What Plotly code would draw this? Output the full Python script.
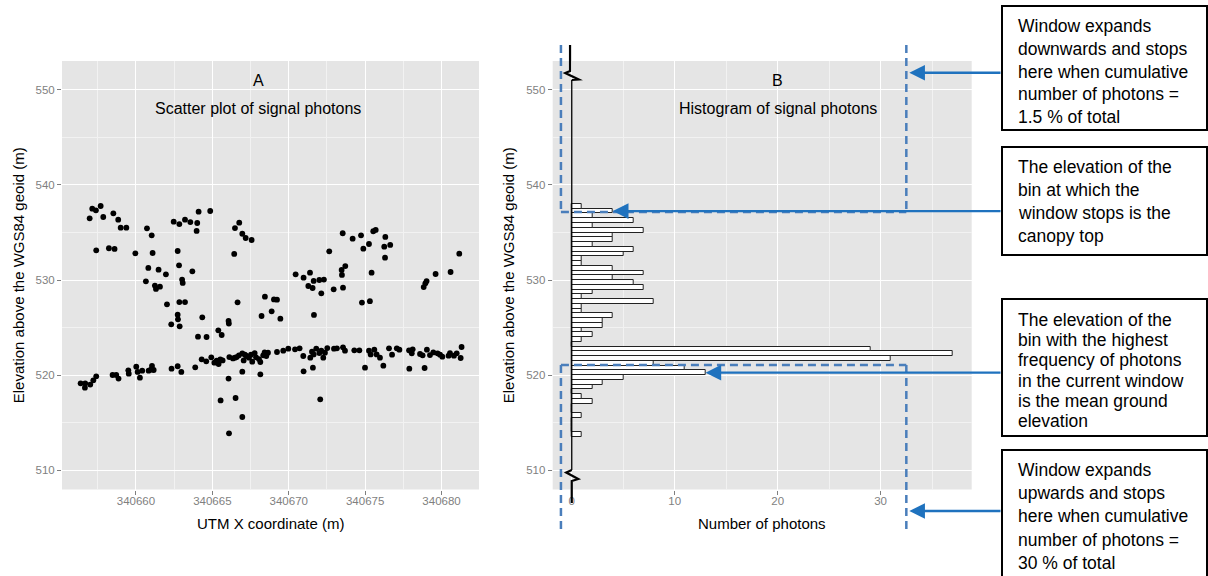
import plotly.graph_objects as go

W, H = 1208, 576
FONT = "Liberation Sans, Arial, sans-serif"

# Signal photons: UTM easting (m) and elevation above the WGS84 geoid (m)
utm_x = [
    340656.97, 340657.14, 340657.38, 340657.69, 340657.86, 340657.40, 340658.23, 340658.60,
    340658.52, 340658.84, 340659.00, 340659.37, 340659.96, 340660.72, 340661.03, 340661.09,
    340660.81, 340661.48, 340661.96, 340660.65, 340661.24, 340661.31, 340661.57, 340662.47,
    340662.84, 340663.21, 340663.56, 340664.01, 340663.97, 340664.10, 340664.86, 340662.73,
    340662.82, 340663.69, 340663.02, 340663.06, 340666.48, 340666.76, 340666.96, 340667.18,
    340667.57, 340666.43, 340668.44, 340673.53, 340674.18, 340674.73, 340675.53, 340675.69,
    340676.32,
    340662.03, 340662.31, 340662.73, 340662.75, 340662.86, 340662.84, 340663.21, 340664.34,
    340664.06, 340664.62, 340665.39, 340665.61, 340666.06, 340666.08, 340666.65, 340668.22,
    340668.88, 340669.03, 340669.23, 340669.45, 340670.45, 340670.97, 340671.39, 340671.63,
    340671.28, 340671.56, 340672.00, 340672.30, 340672.13, 340671.65, 340672.65, 340672.94,
    340673.46, 340673.48, 340673.70, 340673.55, 340674.88, 340675.25, 340675.42, 340674.79,
    340675.31, 340676.25, 340676.30, 340676.64, 340678.83, 340678.94, 340679.02, 340679.61,
    340680.59, 340681.16,
    340656.38, 340656.66, 340656.68, 340657.01, 340657.21, 340657.40, 340658.47, 340658.71,
    340658.86, 340659.50, 340659.53, 340660.02, 340660.11, 340660.26, 340660.41, 340660.83,
    340661.05, 340661.16, 340660.98, 340662.33, 340662.73, 340662.97, 340663.88, 340664.30,
    340664.60, 340664.93, 340665.13, 340665.28, 340665.41, 340665.52, 340665.67, 340666.11,
    340666.35, 340666.48, 340666.59, 340666.74, 340666.96, 340667.05, 340667.13, 340667.24,
    340667.40, 340667.61, 340667.53, 340667.77, 340667.86, 340668.05, 340668.14, 340668.33,
    340668.42, 340668.53, 340668.64, 340669.23, 340669.64, 340669.97, 340670.41, 340670.71,
    340670.95, 340671.41, 340671.52, 340671.63, 340671.80, 340672.00, 340672.13, 340672.26,
    340672.37, 340672.52, 340672.96, 340673.15, 340673.55, 340673.68, 340674.29, 340674.62,
    340675.25, 340675.36, 340675.60, 340675.75, 340675.97, 340676.56, 340676.76, 340677.07,
    340677.24, 340677.87, 340678.05, 340678.11, 340678.59, 340678.76, 340679.04, 340679.24,
    340679.46, 340679.74, 340679.90, 340680.05, 340680.46, 340680.55, 340680.81, 340680.99,
    340681.25, 340681.31,
    340666.96, 340668.14, 340666.06, 340665.54, 340666.52, 340666.96, 340666.09, 340670.97,
    340671.58, 340672.06, 340674.99, 340676.19, 340677.89, 340678.89,
]
elev = [
    536.49, 537.51, 537.33, 537.79, 536.63, 533.12, 533.34, 533.27,
    537.02, 536.35, 535.51, 535.51, 532.81, 535.44, 534.70, 532.84,
    531.27, 531.09, 530.60, 529.86, 529.41, 529.06, 529.30, 536.14,
    535.89, 536.35, 536.10, 536.00, 535.16, 537.19, 537.26, 533.05,
    531.54, 530.91, 530.04, 529.69, 535.47, 536.03, 534.87, 534.42,
    534.21, 532.74, 528.24, 534.92, 534.35, 534.70, 535.13, 535.27,
    534.53,
    527.44, 525.33, 526.35, 525.86, 525.12, 527.68, 527.68, 526.07,
    524.03, 524.00, 524.70, 524.21, 525.69, 525.41, 527.65, 526.21,
    526.70, 527.96, 527.93, 525.93, 530.60, 530.25, 530.77, 529.90,
    529.37, 529.16, 530.00, 530.04, 528.60, 526.32, 533.02, 529.02,
    531.05, 530.53, 531.47, 529.19, 533.30, 533.79, 530.77, 527.62,
    527.77, 533.51, 532.35, 533.69, 529.26, 529.65, 529.89, 530.63,
    530.84, 532.77,
    519.13, 518.67, 519.13, 518.99, 519.44, 519.86, 520.00, 520.00,
    519.62, 520.49, 520.14, 520.88, 520.32, 519.72, 520.46, 520.46,
    520.95, 520.53, 520.56, 520.67, 520.92, 520.32, 520.81, 521.65,
    521.44, 521.86, 521.30, 521.51, 521.16, 521.65, 521.54, 521.89,
    521.75, 521.82, 521.89, 522.07, 522.28, 521.54, 522.14, 522.00,
    521.82, 521.40, 522.14, 522.31, 521.86, 521.68, 521.37, 522.07,
    522.38, 522.00, 522.35, 522.42, 522.56, 522.77, 522.70, 522.81,
    522.00, 521.82, 522.45, 522.17, 522.77, 522.31, 522.56, 521.82,
    522.35, 522.84, 522.77, 522.81, 522.91, 522.56, 522.60, 522.60,
    522.56, 522.17, 522.67, 522.17, 521.82, 522.81, 522.14, 522.81,
    522.67, 522.60, 522.28, 522.70, 522.21, 522.07, 522.67, 522.10,
    522.38, 522.28, 522.14, 521.93, 522.03, 522.31, 522.03, 522.28,
    521.79, 522.95,
    520.35, 520.07, 519.62, 517.33, 517.58, 515.58, 513.86, 520.39,
    520.77, 517.44, 520.77, 520.98, 520.67, 520.74,
]

# Photon histogram: lower edge of each 0.5 m elevation bin and its count
bin_lower = [
    513.5, 514.0, 514.5, 515.0, 515.5, 516.0, 516.5, 517.0, 517.5, 518.0,
    518.5, 519.0, 519.5, 520.0, 520.5, 521.0, 521.5, 522.0, 522.5, 523.0,
    523.5, 524.0, 524.5, 525.0, 525.5, 526.0, 526.5, 527.0, 527.5, 528.0,
    528.5, 529.0, 529.5, 530.0, 530.5, 531.0, 531.5, 532.0, 532.5, 533.0,
    533.5, 534.0, 534.5, 535.0, 535.5, 536.0, 536.5, 537.0, 537.5,
]
bin_count = [
    1, 0, 0, 0, 1, 0, 0, 2, 1, 0,
    2, 3, 5, 13, 11, 8, 31, 37, 29, 0,
    1, 2, 1, 3, 3, 4, 1, 1, 8, 1,
    2, 7, 6, 4, 7, 4, 1, 1, 5, 6,
    2, 4, 4, 7, 2, 6, 2, 4, 1,
]
BIN_W = 0.5

# Search window: frame extent in photon counts and the elevations where it stops
window_count = [-1.05, 32.5]
canopy_stop = 537.15   # downward expansion stops here (1.5 % of total)
ground_stop = 521.05   # upward expansion stops here (30 % of total)

x_ticks_utm = [340660, 340665, 340670, 340675, 340680]
y_ticks = [510, 520, 530, 540, 550]
x_ticks_count = [0, 10, 20, 30]

callouts = [
    ["Window expands", "downwards and stops", "here when cumulative",
     "number of photons =", "1.5 % of total"],
    ["The elevation of the", "bin at which the", "window stops is the", "canopy top"],
    ["The elevation of the", "bin with the highest", "frequency of photons",
     "in the current window", "is the mean ground", "elevation"],
    ["Window expands", "upwards and stops", "here when cumulative",
     "number of photons =", "30 % of total"],
]

# ---- page geometry -------------------------------------------------------
def px(x):
    return x / W


def py(y):
    return 1 - y / H


X1_DOM = [px(62), px(479)]
X2_DOM = [px(552.7), px(971.7)]
Y_DOM = [py(489.5), py(61)]
X1_RANGE = [340655.16, 340682.45]
X2_RANGE = [-1.85, 38.85]
Y_RANGE = [507.95, 553.05]


def count_to_paper(c):
    return X2_DOM[0] + (c - X2_RANGE[0]) / (X2_RANGE[1] - X2_RANGE[0]) * (X2_DOM[1] - X2_DOM[0])


def elev_to_paper(e):
    return Y_DOM[0] + (e - Y_RANGE[0]) / (Y_RANGE[1] - Y_RANGE[0]) * (Y_DOM[1] - Y_DOM[0])


BG = "#E5E5E5"
GRID = "#FFFFFF"
MINOR = "#F2F2F2"
TICKC = "#7F7F7F"
DASH_BLUE = "#4A7EBB"
ARROW_BLUE = "#1F72BE"

fig = go.Figure()

fig.add_trace(go.Scatter(
    x=utm_x, y=elev, mode="markers", xaxis="x", yaxis="y",
    marker=dict(color="black", size=5.8, line=dict(width=0)),
    showlegend=False, hoverinfo="x+y",
))

bin_mid = [b + BIN_W / 2 for b in bin_lower]
fig.add_trace(go.Bar(
    x=bin_count, y=bin_mid, orientation="h", width=BIN_W,
    xaxis="x2", yaxis="y2",
    marker=dict(color="white", line=dict(color="#222222", width=1)),
    showlegend=False,
))


def axis_common(standoff):
    return dict(
        showgrid=True, gridcolor=GRID, gridwidth=1.3, zeroline=False, showline=False,
        ticks="outside", ticklen=4, tickwidth=1, tickcolor=TICKC,
        ticklabelstandoff=standoff,
        tickfont=dict(family=FONT, size=11.5, color=TICKC),
    )


minor_x1 = dict(tick0=340657.5, dtick=2.5, showgrid=True, gridcolor=MINOR, gridwidth=0.7)
minor_y = dict(tick0=505, dtick=5, showgrid=True, gridcolor=MINOR, gridwidth=0.7)
minor_x2 = dict(tick0=0, dtick=5, showgrid=True, gridcolor=MINOR, gridwidth=0.7)

fig.update_layout(
    width=W, height=H,
    margin=dict(l=0, r=0, t=0, b=0),
    paper_bgcolor="white", plot_bgcolor=BG,
    showlegend=False, bargap=0,
    xaxis=dict(domain=X1_DOM, range=X1_RANGE, tickvals=x_ticks_utm, tickformat="d",
               anchor="y", minor=minor_x1, **axis_common(-3)),
    yaxis=dict(domain=Y_DOM, range=Y_RANGE, tickvals=y_ticks, anchor="x",
               minor=minor_y, **axis_common(0)),
    xaxis2=dict(domain=X2_DOM, range=X2_RANGE, tickvals=x_ticks_count, anchor="y2",
                minor=minor_x2, **axis_common(-3)),
    yaxis2=dict(domain=Y_DOM, range=Y_RANGE, tickvals=y_ticks, anchor="x2",
                minor=minor_y, **axis_common(0)),
)

annotations = []
title_font = dict(family=FONT, size=16, color="black")
axis_font = dict(family=FONT, size=15, color="black")

# panel labels
for xref, yref, xc, letter, sub in [
    ("x", "y", 340668.0, "A", "Scatter plot of signal photons"),
    ("x2", "y2", 20.0, "B", "Histogram of signal photons"),
]:
    annotations.append(dict(x=xc, y=551.0, xref=xref, yref=yref, text=letter,
                            showarrow=False, font=title_font,
                            xanchor="center", yanchor="middle"))
    annotations.append(dict(x=xc, y=548.0, xref=xref, yref=yref, text=sub,
                            showarrow=False, font=title_font,
                            xanchor="center", yanchor="middle"))

# axis titles
mid = dict(xref="paper", yref="paper", showarrow=False, xanchor="center", yanchor="middle",
           font=axis_font)
annotations += [
    dict(x=sum(X1_DOM) / 2, y=py(523), text="UTM X coordinate (m)", **mid),
    dict(x=sum(X2_DOM) / 2, y=py(523), text="Number of photons", **mid),
    dict(x=px(18), y=sum(Y_DOM) / 2, text="Elevation above the WGS84 geoid (m)",
         textangle=-90, **mid),
    dict(x=px(508), y=sum(Y_DOM) / 2, text="Elevation above the WGS84 geoid (m)",
         textangle=-90, **mid),
]

shapes = []

# search-window frames (dashed)
dash = dict(color=DASH_BLUE, width=2.5, dash="8px,5px")
xl, xr = count_to_paper(window_count[0]), count_to_paper(window_count[1])
y_top, y_bot = py(45), py(531)
y_can, y_gnd = elev_to_paper(canopy_stop), elev_to_paper(ground_stop)
for x0, y0, x1, y1 in [
    (xl, y_top, xl, y_can), (xr, y_top, xr, y_can), (xl, y_can, xr, y_can),
    (xl, y_gnd, xr, y_gnd), (xl, y_gnd, xl, y_bot), (xr, y_gnd, xr, y_bot),
]:
    shapes.append(dict(type="line", xref="paper", yref="paper", x0=x0, y0=y0, x1=x1, y1=y1,
                       line=dash, layer="above"))

# zero-count baseline with axis-break marks
zx = count_to_paper(0)
dxp = 1 / W
shapes.append(dict(type="line", xref="paper", yref="paper", x0=zx, x1=zx,
                   y0=py(80), y1=py(470), line=dict(color="black", width=1.3), layer="above"))
top_break = [(-1.7, 45), (-1.7, 71), (-6.5, 73), (7, 79.5), (0, 80)]
bot_break = [(0, 470), (-5.5, 472.5), (6.5, 479), (0, 481), (0, 503)]
for pts in (top_break, bot_break):
    path = " ".join(
        ("M" if i == 0 else "L") + f" {zx + dx * dxp:.5f},{py(yy):.5f}"
        for i, (dx, yy) in enumerate(pts)
    )
    shapes.append(dict(type="path", xref="paper", yref="paper", path=path,
                       line=dict(color="black", width=2.2), layer="above"))

# callout boxes: (top, bottom, first text line, line pitch) in pixels
boxes = [(6, 130, 26, 22.8), (147, 255, 167, 23.0), (299, 436, 320, 20.2), (450, 600, 470, 23.2)]
BOX_L, BOX_R = 1002, 1207
for (t, b, first, pitch), lines in zip(boxes, callouts):
    shapes.append(dict(type="rect", xref="paper", yref="paper",
                       x0=px(BOX_L), x1=px(BOX_R), y0=py(b), y1=py(t),
                       line=dict(color="black", width=2), fillcolor="white", layer="above"))
    for k, line in enumerate(lines):
        annotations.append(dict(x=px(1016), y=py(first + k * pitch), xref="paper", yref="paper",
                                xanchor="left", yanchor="middle", align="left", showarrow=False,
                                text=line, font=dict(family=FONT, size=17.5, color="black")))

# arrow targets: canopy-top bin and the modal bin inside the ground window
canopy_i = max(i for i, b in enumerate(bin_lower) if b <= canopy_stop)
ground_bins = [i for i, b in enumerate(bin_lower) if b + BIN_W <= ground_stop]
ground_i = max(ground_bins, key=lambda i: bin_count[i])

arrow_heads = [
    (xr + 3 * dxp, py(72.7)),
    (count_to_paper(bin_count[canopy_i]), elev_to_paper(bin_mid[canopy_i])),
    (count_to_paper(bin_count[ground_i]), elev_to_paper(bin_mid[ground_i])),
    (xr + 3 * dxp, py(511)),
]
for hx, hy in arrow_heads:
    annotations.append(dict(x=hx, y=hy, xref="paper", yref="paper", text="",
                            showarrow=True, ax=BOX_L - hx * W, ay=0, axref="pixel", ayref="pixel",
                            arrowhead=2, arrowsize=1.3, arrowwidth=2.4, arrowcolor=ARROW_BLUE,
                            standoff=0, startstandoff=0))

fig.update_layout(annotations=annotations, shapes=shapes)
fig.write_html("out.html")
